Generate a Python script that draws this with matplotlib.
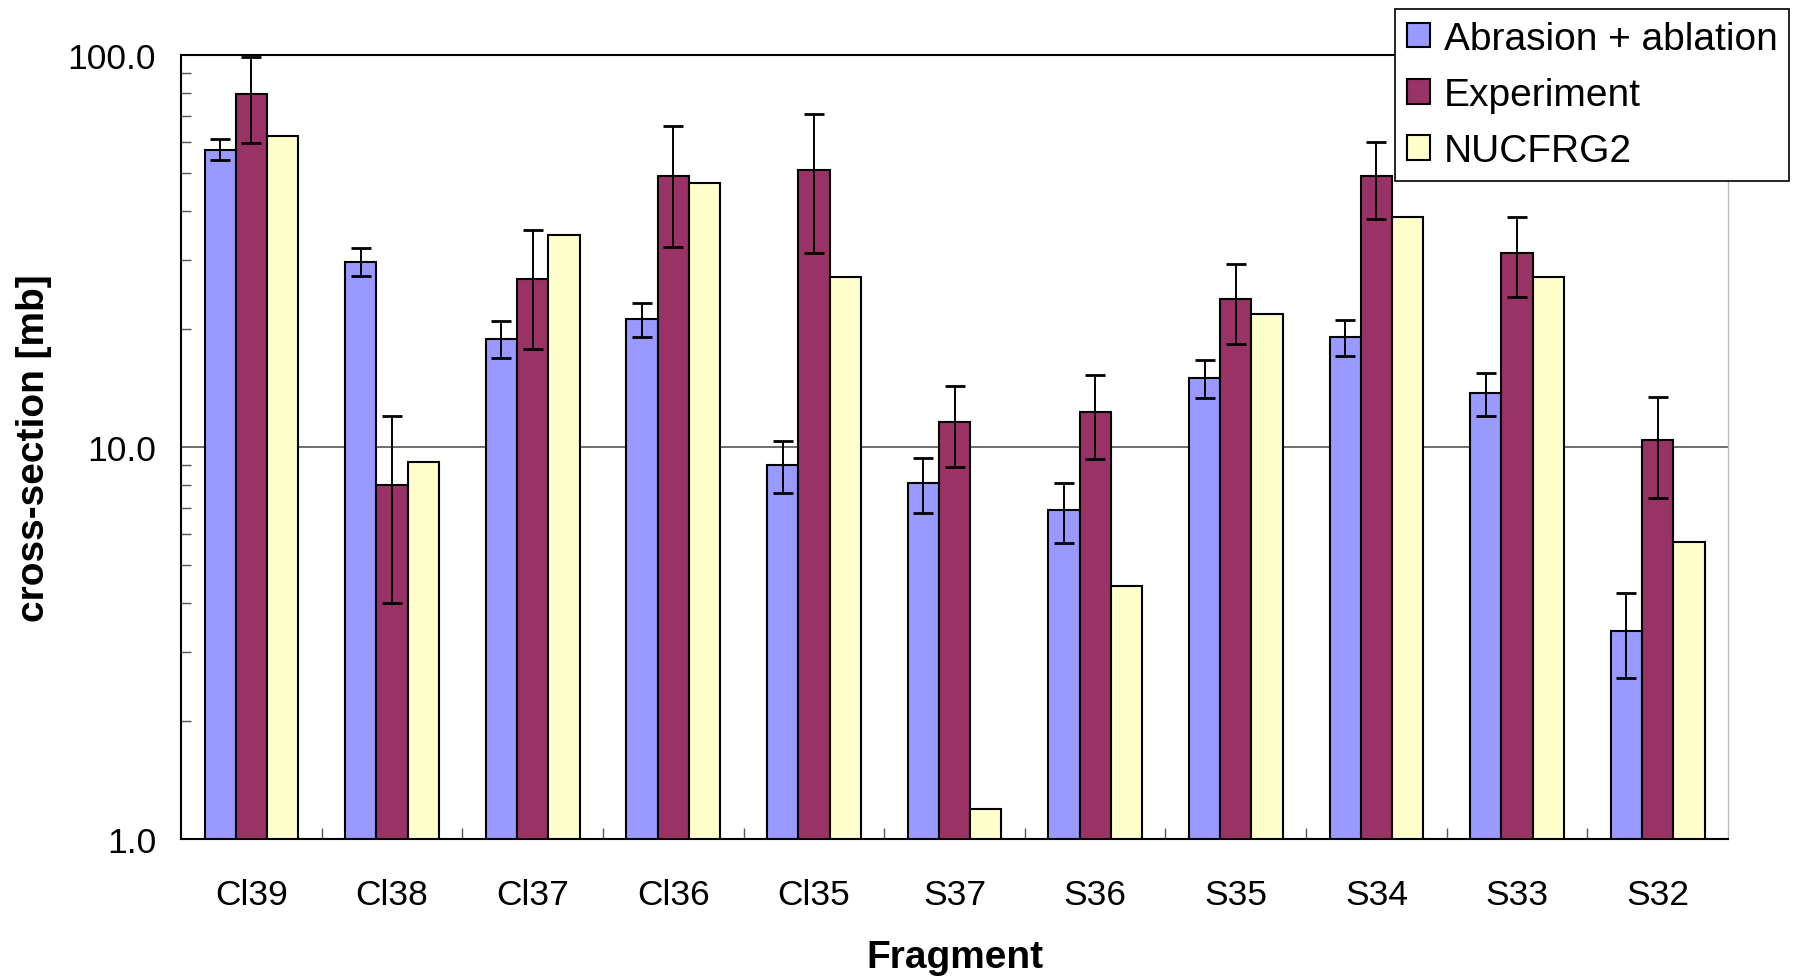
import matplotlib
matplotlib.use("Agg")
import matplotlib.pyplot as plt
import numpy as np
from matplotlib.ticker import FixedLocator, FormatStrFormatter, LogLocator, NullFormatter

plt.rcParams['font.family'] = ['Liberation Sans', 'DejaVu Sans']

# fragments and cross-sections [mb]
fragments = ['Cl39', 'Cl38', 'Cl37', 'Cl36', 'Cl35', 'S37', 'S36', 'S35', 'S34', 'S33', 'S32']
abr_abl = [57.4, 29.7, 18.9, 21.2, 9.0, 8.1, 6.9, 15.0, 19.1, 13.7, 3.4]
abr_abl_err = [3.5, 2.4, 2.0, 2.1, 1.35, 1.3, 1.2, 1.7, 2.0, 1.7, 0.83]
experiment = [79.3, 8.0, 26.8, 49.1, 51.0, 11.6, 12.3, 23.8, 49.1, 31.3, 10.4]
experiment_err = [19.6, 4.0, 9.0, 16.7, 19.7, 2.7, 3.0, 5.5, 11.0, 7.2, 3.0]
nucfrg2 = [62.3, 9.15, 34.7, 47.2, 27.2, 1.19, 4.42, 21.8, 38.5, 27.2, 5.72]

fig = plt.figure(figsize=(18, 9.79), dpi=100)
ax = fig.add_axes([0.1006, 0.142, 0.8594, 0.8008])

x = np.arange(len(fragments))
w = 1.0 / 4.5
ekw = dict(ecolor='black', elinewidth=1.4, capsize=7, capthick=2)

ax.bar(x - w, abr_abl, w, color='#9999FF', edgecolor='black', linewidth=1.5,
       yerr=abr_abl_err, error_kw=ekw, label='Abrasion + ablation', zorder=2)
ax.bar(x, experiment, w, color='#993366', edgecolor='black', linewidth=1.5,
       yerr=experiment_err, error_kw=ekw, label='Experiment', zorder=2)
ax.bar(x + w, nucfrg2, w, color='#FFFFCC', edgecolor='black', linewidth=1.5,
       label='NUCFRG2', zorder=2)

ax.set_yscale('log')
ax.set_ylim(1, 100)
ax.set_xlim(-0.5, len(fragments) - 0.5)

ax.yaxis.set_major_locator(FixedLocator([1, 10, 100]))
ax.yaxis.set_major_formatter(FormatStrFormatter('%.1f'))
ax.yaxis.set_minor_locator(LogLocator(base=10, subs=np.arange(2, 10)))
ax.yaxis.set_minor_formatter(NullFormatter())
ax.tick_params(axis='y', which='major', length=0, pad=18, labelsize=25.5)
ax.tick_params(axis='y', which='minor', direction='in', length=7, width=1, color='#555555')

ax.set_xticks(x)
ax.set_xticklabels(fragments)
ax.set_xticks(np.arange(0.5, len(fragments) - 1, 1.0), minor=True)
ax.tick_params(axis='x', which='major', length=0, pad=28, labelsize=25.5)
ax.tick_params(axis='x', which='minor', direction='in', length=8, width=1, color='#555555')

ax.grid(axis='y', which='major', color='#555555', linewidth=1.2)
ax.set_axisbelow(True)

for s in ['left', 'bottom', 'top']:
    ax.spines[s].set_color('black')
    ax.spines[s].set_linewidth(1.5)
ax.spines['right'].set_color('#bbbbbb')
ax.spines['right'].set_linewidth(1)

ax.set_xlabel('Fragment', fontsize=28, fontweight='bold')
ax.xaxis.set_label_coords(0.5, -0.1276)
ax.set_ylabel('cross-section [mb]', fontsize=28, fontweight='bold')
ax.yaxis.set_label_coords(-0.095, 0.5)
ax.yaxis.label.set_va('center')

leg = ax.legend(loc='upper right', bbox_to_anchor=(1789 / 1800, 1 - 10 / 979),
                bbox_transform=fig.transFigure, borderaxespad=0, fontsize=28,
                fancybox=False, framealpha=1, edgecolor='black',
                handlelength=0.6, handleheight=0.6, handletextpad=0.35,
                labelspacing=0.52, borderpad=0.3)
leg.get_frame().set_linewidth(1.2)
leg.set_zorder(5)

fig.savefig('out.png', dpi=100)
